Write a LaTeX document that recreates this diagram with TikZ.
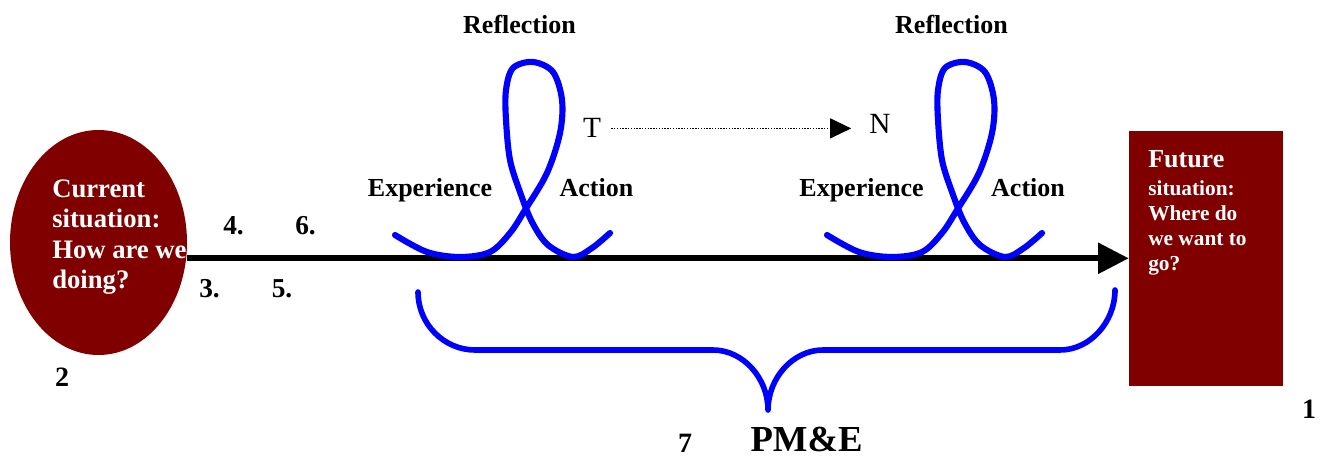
\documentclass[tikz,border=0pt]{standalone}
\usepackage{fontspec}
\setmainfont{Liberation Serif}
\usetikzlibrary{shapes.geometric,arrows.meta}
\definecolor{dred}{RGB}{128,0,0}
\definecolor{pblue}{RGB}{0,0,255}
\begin{document}
\begin{tikzpicture}[x=0.75pt,y=-0.75pt,
  lbl/.style={font=\fontsize{19.5}{23}\selectfont\bfseries, inner sep=0, anchor=base},
  smallnum/.style={font=\fontsize{20.5}{24}\selectfont\bfseries, inner sep=0, anchor=base},
  bignum/.style={font=\fontsize{21}{24}\selectfont\bfseries, inner sep=0, anchor=base},
  plain/.style={font=\fontsize{22}{26}\selectfont, inner sep=0, anchor=base},
  intext/.style={text=white, align=left, inner sep=0, anchor=west},
  loopline/.style={draw=pblue, line width=4.6pt, line cap=round, line join=round},
  braceline/.style={draw=pblue, line width=4.2pt, line cap=round, line join=round},
]
\useasboundingbox (0,0) rectangle (1327,459);

% shapes
\node[ellipse, fill=dred, minimum width=132.75pt, minimum height=168.75pt, inner sep=0] (cur) at (98.5,242.5) {};
\node[rectangle, fill=dred, minimum width=115.5pt, minimum height=191.25pt, inner sep=0] (fut) at (1206,258.3) {};

\node[intext, font=\fontsize{20}{22.8}\selectfont\bfseries] (curtext) at (52,237) {Current\\situation:\\How are we\\doing?};
\node[intext, font=\fontsize{16}{18.75}\selectfont\bfseries] (futtext) at (1148,213) {{\fontsize{19.5}{19.5}\selectfont Future}\\[2.5pt]situation:\\Where do\\we want to\\go?};

% main arrow
\draw[line width=4.2pt, -{Triangle[length=23pt,width=22.5pt]}] (cur.east |- fut.west) -- (fut.west);

% loops
\foreach \s in {0,432}{
\begin{scope}[shift={(\s,0)}]
\draw[loopline] plot[smooth, tension=0.55] coordinates {(395,235) (427,252) (460,257) (490,252) (510,233) (525,210) (547,173) (560,133) (562,100) (553,72) (533,62) (513,68) (506,90) (506,120) (510,160) (520,192) (532,222) (548,245) (573,257) (592,248) (610,233)};
\end{scope}
}

% brace
\draw[braceline] (418,292) .. controls (418,324) and (444,350) .. (475,350) -- (713,350)
  .. controls (743,350) and (768,378) .. (768,410)
  .. controls (768,378) and (793,350) .. (823,350) -- (1060,350)
  .. controls (1090,350) and (1115,322) .. (1115,290);

% labels
\node[lbl] (refl1) at (519.5,34) {Reflection};
\node[lbl] (refl2) at (951.5,34) {Reflection};
\node[lbl] (exp1) at (430,197) {Experience};
\node[lbl] (act1) at (596.5,197) {Action};
\node[lbl] (exp2) at (861.5,197) {Experience};
\node[lbl] (act2) at (1028,197) {Action};

\node[plain] (T) at (592,138) {T};
\node[plain] (N) at (880,134) {N};
\draw[line width=0.9pt, dash pattern=on 1pt off 1.1pt, -{Triangle[length=15.75pt,width=15pt]}, shorten <=7.5pt, shorten >=13.5pt] (T.east) -- (N.west |- T.east);

\node[smallnum] (n4) at (233.5,235) {4.};
\node[smallnum] (n6) at (305.5,235) {6.};
\node[smallnum] (n3) at (209.5,298) {3.};
\node[smallnum] (n5) at (282,298) {5.};
\node[bignum] (n2) at (62,387) {2};
\node[bignum] (n1) at (1309,418) {1};
\node[bignum] (n7) at (685,452) {7};
\node[font=\fontsize{27.5}{30}\selectfont\bfseries, inner sep=0, anchor=base] (pme) at (806.5,451) {PM\&E};
\end{tikzpicture}
\end{document}
